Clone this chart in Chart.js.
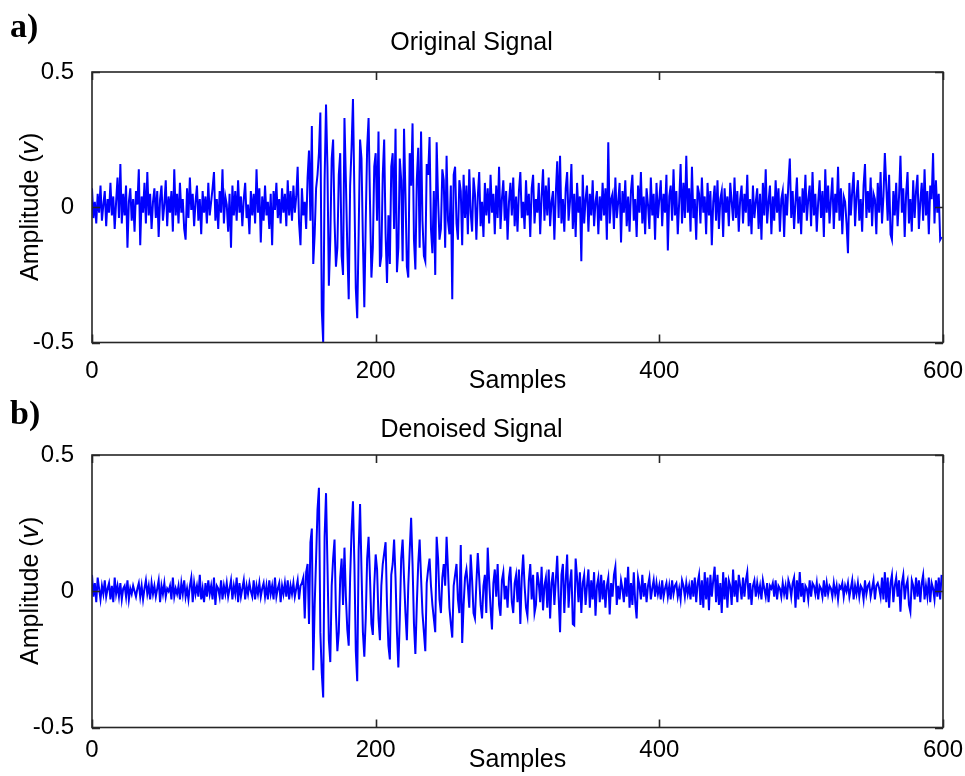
<!DOCTYPE html>
<html>
<head>
<meta charset="utf-8">
<script src="https://cdn.jsdelivr.net/npm/chart.js@4"></script>
<style>
  html, body { margin: 0; padding: 0; background: #fff; }
  #wrap { position: relative; width: 965px; height: 776px; }
  .panel { position: absolute; left: 0; width: 965px; }
  #panelA { top: 0; height: 395px; }
  #panelB { top: 395px; height: 381px; }
</style>
</head>
<body>
<div id="wrap">
  <div class="panel" id="panelA"><canvas id="origChart"></canvas></div>
  <div class="panel" id="panelB"><canvas id="denoChart"></canvas></div>
</div>
<script>
// Tick labels
const sampleTicks = [0, 200, 400, 600];
const ampTicks = [-0.5, 0, 0.5];

// a) Original signal, samples 0..599 (read off the picture)
const originalSignal = [
  0.07,-0.04,0.02,-0.06,0.05,-0.02,0.08,-0.05,0.01,0.06,-0.07,0.03,-0.02,0.09,-0.03,0.04,-0.08,0.02,0.11,-0.04,
  0.16,-0.06,0.05,-0.03,0.08,-0.15,0.02,0.07,-0.05,0.03,-0.09,0.06,0.01,0.14,-0.14,0.04,-0.02,0.09,-0.06,0.13,
  -0.03,0.05,-0.08,0.02,0.07,-0.04,0.06,-0.11,0.03,0.08,-0.05,0.01,0.10,-0.07,0.04,-0.02,0.06,-0.09,0.14,-0.03,
  0.05,-0.06,0.09,-0.02,0.03,-0.08,-0.12,0.07,-0.04,0.11,-0.01,0.05,-0.07,0.02,0.08,-0.05,0.03,-0.10,0.06,-0.02,
  0.04,-0.06,0.09,-0.03,0.02,0.07,0.13,-0.05,0.03,-0.08,0.06,-0.02,0.14,-0.06,0.04,0.01,-0.09,0.05,-0.15,0.08,
  -0.03,0.06,-0.05,0.10,-0.02,0.04,-0.07,0.03,0.09,-0.04,0.01,-0.10,0.06,-0.03,0.05,-0.06,0.14,-0.02,0.07,-0.13,
  0.04,-0.05,0.08,-0.03,0.02,-0.08,0.05,-0.14,0.06,-0.01,0.09,-0.04,0.03,-0.06,0.07,-0.02,0.05,-0.07,0.10,-0.03,
  0.06,-0.05,0.08,-0.02,0.04,0.15,-0.06,-0.14,0.07,-0.03,0.02,-0.08,0.11,0.21,-0.05,0.30,-0.21,-0.10,0.07,0.12,
  0.20,0.35,-0.38,-0.50,0.10,0.38,0.15,-0.29,-0.12,0.18,0.25,-0.05,-0.22,-0.15,0.12,0.20,-0.18,-0.25,0.33,0.10,
  -0.15,-0.34,0.08,0.22,0.40,0.05,-0.30,-0.41,-0.10,0.25,0.18,-0.12,-0.37,-0.05,0.22,0.33,0.02,-0.26,-0.15,0.15,
  0.20,-0.05,0.28,-0.22,-0.18,0.12,0.25,-0.10,-0.28,-0.03,-0.21,0.15,0.20,-0.08,0.29,-0.24,-0.15,0.18,0.10,-0.20,
  0.29,0.05,-0.22,-0.26,0.20,0.08,0.31,-0.12,-0.23,0.10,0.22,-0.15,0.28,-0.05,-0.18,-0.20,0.16,0.12,0.26,-0.08,
  -0.17,0.06,-0.25,0.24,0.03,-0.12,-0.08,0.14,0.10,-0.15,0.19,-0.05,-0.10,0.08,-0.34,0.12,0.15,-0.06,-0.12,0.10,
  0.06,-0.14,0.12,-0.04,0.08,-0.10,0.14,-0.02,-0.09,0.11,0.05,-0.12,0.04,0.13,-0.07,0.02,-0.11,0.09,-0.03,0.07,
  -0.06,0.12,-0.02,0.05,-0.10,0.08,-0.04,0.15,-0.08,0.03,0.10,-0.05,0.06,-0.12,0.02,0.09,-0.03,0.11,-0.07,0.04,
  -0.09,0.06,0.13,-0.04,0.02,-0.08,0.10,-0.03,0.05,-0.11,0.07,0.12,-0.06,0.03,-0.02,0.09,-0.10,0.04,0.14,-0.05,
  0.08,-0.03,0.11,-0.07,0.02,0.06,-0.12,0.05,0.17,-0.04,0.19,-0.06,0.03,-0.09,0.07,0.13,-0.05,0.02,0.16,-0.08,
  0.05,-0.11,0.09,-0.02,0.04,-0.20,0.12,-0.06,0.03,0.08,-0.09,0.05,-0.03,0.10,-0.07,0.02,0.06,-0.10,0.04,-0.05,
  0.09,-0.03,0.07,-0.12,0.24,-0.06,0.03,0.05,-0.08,0.11,-0.04,0.02,0.09,-0.13,0.06,-0.02,0.10,-0.07,0.04,-0.09,
  0.06,0.12,-0.05,0.03,-0.11,0.08,-0.02,0.13,-0.06,0.04,-0.10,0.07,0.01,-0.08,0.11,-0.03,0.05,-0.12,0.09,-0.04,
  0.03,0.10,-0.07,0.05,-0.02,0.12,-0.16,0.04,0.08,-0.05,0.14,-0.03,0.06,-0.10,0.02,0.16,-0.06,0.09,-0.04,0.19,
  -0.02,0.07,-0.09,0.15,-0.04,0.03,-0.12,0.08,0.05,-0.06,0.11,-0.02,0.04,-0.10,0.09,-0.03,0.06,-0.14,0.02,0.08,
  -0.05,0.10,-0.08,0.03,0.06,-0.11,0.07,-0.02,0.04,-0.07,0.09,0.02,-0.05,0.11,-0.04,0.06,-0.09,0.03,0.08,-0.06,
  0.05,-0.02,0.12,-0.07,0.03,-0.10,0.08,-0.04,0.02,0.07,-0.08,0.05,-0.12,0.09,-0.03,0.14,-0.06,0.02,0.08,-0.10,
  0.04,-0.05,0.10,-0.02,0.07,-0.09,0.03,0.06,-0.11,0.05,-0.03,0.09,0.18,-0.04,0.06,-0.08,0.02,0.11,-0.06,0.04,
  -0.10,0.07,-0.02,0.12,-0.05,0.03,0.08,-0.07,0.13,-0.03,0.05,-0.09,0.02,0.10,-0.04,0.06,-0.11,0.14,-0.02,0.08,
  -0.06,0.03,0.11,-0.08,0.05,-0.02,0.15,-0.05,0.07,-0.10,0.04,0.02,-0.06,-0.17,0.09,-0.03,0.06,0.13,-0.07,0.04,
  0.10,-0.05,0.03,-0.09,0.08,0.16,-0.04,0.06,-0.02,0.11,-0.07,0.05,0.03,-0.10,0.09,-0.02,0.13,-0.06,0.04,0.20,
  0.08,-0.05,0.12,-0.10,-0.12,0.06,-0.03,0.09,-0.07,0.04,0.19,-0.02,0.07,-0.11,0.05,0.13,-0.06,0.03,-0.09,0.10,
  -0.04,0.06,0.12,-0.08,0.02,0.09,-0.05,0.14,-0.03,0.06,-0.10,0.08,0.03,0.20,-0.06,0.10,-0.02,0.05,-0.12,-0.11
];

// b) Denoised signal, samples 0..599
const denoisedSignal = [
  0.06,-0.02,0.03,-0.04,0.05,0.01,-0.03,0.02,-0.01,0.04,-0.02,0.01,0.03,-0.03,0.02,-0.04,0.05,-0.01,0.02,-0.02,
  0.03,-0.03,0.01,0.02,-0.02,0.04,-0.03,0.01,-0.01,0.02,0.00,-0.02,0.01,0.03,-0.02,0.02,-0.03,0.01,0.04,-0.01,
  0.02,-0.03,0.03,-0.01,0.02,-0.02,0.01,0.04,-0.04,0.02,-0.01,0.03,-0.02,0.01,0.00,0.02,-0.03,0.05,-0.02,0.01,
  -0.01,0.02,-0.03,0.03,-0.01,0.04,-0.02,0.01,-0.03,0.02,0.05,-0.04,0.03,-0.01,0.02,-0.02,0.06,-0.03,0.01,-0.04,
  0.03,-0.02,0.04,-0.01,0.02,-0.03,0.05,-0.05,0.02,0.01,-0.02,0.04,-0.03,0.02,-0.01,0.03,-0.02,0.01,0.04,-0.03,
  0.02,-0.01,0.05,-0.04,0.03,-0.02,0.01,0.04,-0.03,0.02,-0.01,0.03,0.00,-0.02,0.04,-0.03,0.02,-0.01,0.03,-0.02,
  0.01,0.03,-0.02,0.02,-0.03,0.04,-0.01,0.02,-0.03,0.05,-0.02,0.01,0.03,-0.04,0.02,-0.01,0.03,-0.02,0.04,-0.03,
  0.02,-0.01,0.03,-0.02,0.01,0.04,-0.03,0.02,0.03,0.05,-0.10,0.07,0.10,-0.12,0.18,0.23,-0.29,-0.05,0.12,0.30,
  0.38,-0.15,-0.30,-0.39,0.20,0.36,0.10,-0.18,-0.26,0.02,0.12,0.19,-0.08,-0.22,-0.15,0.05,0.12,-0.05,0.16,-0.02,
  -0.14,-0.20,0.05,0.22,0.33,0.10,-0.22,-0.33,0.15,0.32,0.08,-0.15,-0.24,-0.10,0.12,0.20,0.05,-0.12,-0.16,0.02,
  0.135,0.08,-0.10,-0.18,0.02,0.10,0.14,0.18,-0.05,-0.20,-0.25,0.06,0.10,0.19,0.05,-0.15,-0.28,-0.10,0.12,0.19,
  0.05,-0.08,-0.18,0.02,0.15,0.27,0.10,-0.12,-0.23,-0.05,0.10,0.19,0.05,-0.08,-0.15,-0.22,0.03,0.08,0.12,0.02,
  -0.05,-0.10,-0.15,0.20,0.12,-0.03,-0.08,0.05,0.10,0.02,0.20,0.08,-0.06,-0.12,-0.17,0.02,0.06,0.10,-0.03,-0.08,
  0.17,-0.19,-0.05,0.05,0.08,0.02,-0.06,0.135,0.04,-0.08,-0.10,0.03,0.14,0.05,-0.05,-0.10,0.02,0.06,-0.08,0.16,
  0.04,-0.06,-0.14,0.03,0.08,-0.02,0.10,-0.05,-0.09,0.04,0.07,-0.03,0.02,-0.06,0.05,0.09,-0.04,-0.08,0.03,0.06,
  -0.04,0.08,-0.12,0.05,0.135,0.02,-0.06,-0.09,0.04,0.10,-0.03,0.06,-0.08,-0.05,0.07,0.03,-0.04,0.09,-0.07,0.02,
  0.05,-0.06,0.08,-0.10,0.03,0.07,-0.05,0.04,0.13,-0.02,-0.15,0.06,0.10,-0.08,0.04,0.135,-0.06,0.03,0.08,-0.12,
  -0.125,0.12,0.05,-0.04,0.07,-0.08,0.03,0.06,-0.05,0.02,0.08,-0.06,0.04,-0.03,0.07,-0.09,0.02,0.05,-0.04,0.06,
  -0.03,0.04,-0.06,0.02,0.05,-0.085,0.03,-0.02,0.06,0.09,-0.05,0.02,-0.03,0.04,0.01,-0.04,0.05,-0.02,0.09,-0.06,
  0.03,-0.05,0.07,-0.04,-0.10,0.05,0.02,-0.03,0.06,-0.02,0.03,-0.04,0.02,0.05,-0.03,0.01,0.04,-0.02,0.03,-0.01,
  0.02,-0.03,0.04,-0.02,0.01,0.03,-0.02,0.02,-0.03,0.04,-0.01,0.02,0.03,-0.02,0.01,-0.03,0.04,0.02,-0.02,0.03,
  -0.01,0.02,-0.03,0.04,-0.02,0.05,-0.04,0.03,0.06,-0.05,0.04,-0.06,0.07,-0.03,0.05,-0.07,0.06,-0.02,0.04,0.09,
  -0.04,0.06,-0.05,0.03,-0.08,0.07,-0.03,0.05,-0.06,0.04,0.02,-0.05,0.08,-0.02,0.04,-0.04,0.06,0.02,-0.03,0.05,
  -0.02,0.04,0.07,-0.03,0.03,-0.05,0.02,0.04,-0.02,0.03,-0.01,0.02,-0.03,0.04,0.01,-0.02,0.03,-0.04,0.02,0.01,
  0.03,-0.02,0.04,-0.03,0.02,0.01,-0.02,0.03,-0.01,0.02,-0.03,0.04,0.02,-0.02,0.03,0.05,-0.06,0.04,-0.03,0.07,
  -0.02,0.03,-0.04,0.02,0.01,-0.03,0.04,-0.02,0.03,0.02,-0.01,0.03,-0.03,0.02,0.01,-0.02,0.04,-0.02,0.03,-0.01,
  0.02,0.01,-0.02,0.03,-0.01,0.02,-0.03,0.02,0.01,0.03,-0.02,0.02,0.00,0.03,-0.02,0.01,0.04,-0.03,0.02,-0.01,
  0.03,-0.02,0.02,0.01,-0.03,0.04,-0.01,0.02,0.03,-0.02,0.01,0.04,-0.03,0.02,0.03,0.01,-0.02,0.05,-0.03,0.07,
  -0.04,0.05,-0.06,0.03,0.06,-0.04,0.02,0.05,-0.02,0.04,-0.075,0.03,0.06,-0.03,0.02,0.04,-0.05,-0.075,0.04,0.02,
  -0.03,0.05,-0.02,0.04,-0.04,0.03,0.06,-0.03,0.02,-0.02,0.05,-0.04,0.03,0.01,-0.03,0.04,-0.02,0.05,-0.03,0.06
];

const SANS = '"Liberation Sans", Arial, sans-serif';
const SERIF = '"Liberation Serif", "Times New Roman", serif';
Chart.defaults.font.family = SANS;
Chart.defaults.color = '#000';

// draws the MATLAB style box with inward ticks, the y label and the panel letter
const matlabFrame = {
    id: 'matlabFrame',
    afterDatasetsDraw(chart, args, opts) {
        const { ctx, chartArea: a, scales } = chart;
        ctx.save();
        ctx.strokeStyle = '#262626';
        ctx.lineWidth = 1.6;
        ctx.strokeRect(a.left, a.top, a.right - a.left, a.bottom - a.top);
        const tl = 8;
        ctx.beginPath();
        sampleTicks.forEach(v => {
            const x = Math.round(scales.x.getPixelForValue(v)) + 0.5;
            ctx.moveTo(x, a.bottom); ctx.lineTo(x, a.bottom - tl);
            ctx.moveTo(x, a.top); ctx.lineTo(x, a.top + tl);
        });
        ampTicks.forEach(v => {
            const y = Math.round(scales.y.getPixelForValue(v)) + 0.5;
            ctx.moveTo(a.left, y); ctx.lineTo(a.left + tl, y);
            ctx.moveTo(a.right, y); ctx.lineTo(a.right - tl, y);
        });
        ctx.stroke();

        // y label "Amplitude (v)" with italic v
        const cy = (a.top + a.bottom) / 2;
        ctx.translate(opts.yLabelX, cy);
        ctx.rotate(-Math.PI / 2);
        ctx.fillStyle = '#000';
        ctx.textBaseline = 'middle';
        const f1 = '25px ' + SANS, f2 = 'italic 25px ' + SANS;
        ctx.font = f1;
        const w1 = ctx.measureText('Amplitude (').width;
        const w3 = ctx.measureText(')').width;
        ctx.font = f2;
        const w2 = ctx.measureText('v').width;
        let x0 = -(w1 + w2 + w3) / 2;
        ctx.font = f1; ctx.textAlign = 'left';
        ctx.fillText('Amplitude (', x0, 0);
        ctx.font = f2; ctx.fillText('v', x0 + w1, 0);
        ctx.font = f1; ctx.fillText(')', x0 + w1 + w2 + 1, 0);
        ctx.restore();

        // panel letter
        ctx.save();
        ctx.font = 'bold 34px ' + SERIF;
        ctx.fillStyle = '#000';
        ctx.textAlign = 'left';
        ctx.textBaseline = 'alphabetic';
        ctx.fillText(opts.letter, 10, opts.letterY);
        ctx.restore();
    }
};

function makePanel(canvasId, values, cfg) {
    const ctx = document.getElementById(canvasId).getContext('2d');
    return new Chart(ctx, {
        type: 'line',
        data: {
            datasets: [{
                data: values.map((v, i) => ({ x: i, y: v })),
                borderColor: '#0000ff',
                borderWidth: 2,
                pointRadius: 0,
                tension: 0,
                fill: false
            }]
        },
        options: {
            responsive: true,
            maintainAspectRatio: false,
            animation: false,
            layout: { padding: { left: 0, right: 22, top: 0, bottom: 0 } },
            plugins: {
                legend: { display: false },
                tooltip: { enabled: false },
                title: {
                    display: true,
                    text: cfg.title,
                    color: '#000',
                    font: { size: 25, weight: 'normal' },
                    padding: cfg.titlePad
                },
                matlabFrame: { letter: cfg.letter, letterY: cfg.letterY, yLabelX: 31 }
            },
            scales: {
                x: {
                    type: 'linear',
                    min: 0, max: 600,
                    grid: { display: false },
                    border: { display: false },
                    afterBuildTicks: s => { s.ticks = sampleTicks.map(v => ({ value: v })); },
                    afterFit: s => {
                        s.height = cfg.xHeight;
                        s.paddingLeft = 0;
                        s.paddingRight = 0;
                    },
                    ticks: { font: { size: 24 }, padding: cfg.xTickPad, maxRotation: 0, callback: v => String(v) },
                    title: {
                        display: true,
                        text: 'Samples',
                        font: { size: 25 },
                        padding: { top: 0, bottom: cfg.xTitlePad }
                    }
                },
                y: {
                    min: -0.5, max: 0.5,
                    grid: { display: false },
                    border: { display: false },
                    afterBuildTicks: s => { s.ticks = ampTicks.map(v => ({ value: v })); },
                    afterFit: s => {
                        s.width = 92;
                        s.paddingTop = 0;
                        s.paddingBottom = 0;
                    },
                    ticks: { font: { size: 24 }, padding: 10, callback: v => String(v) }
                }
            }
        },
        plugins: [matlabFrame]
    });
}

makePanel('origChart', originalSignal, {
    title: 'Original Signal',
    titlePad: { top: 28, bottom: 14 },
    xHeight: 52.5,
    xTickPad: 6,
    xTitlePad: -1,
    letter: 'a)',
    letterY: 37
});

makePanel('denoChart', denoisedSignal, {
    title: 'Denoised Signal',
    titlePad: { top: 20, bottom: 10 },
    xHeight: 48.5,
    xTickPad: 0,
    xTitlePad: 1,
    letter: 'b)',
    letterY: 29
});
</script>
</body>
</html>
